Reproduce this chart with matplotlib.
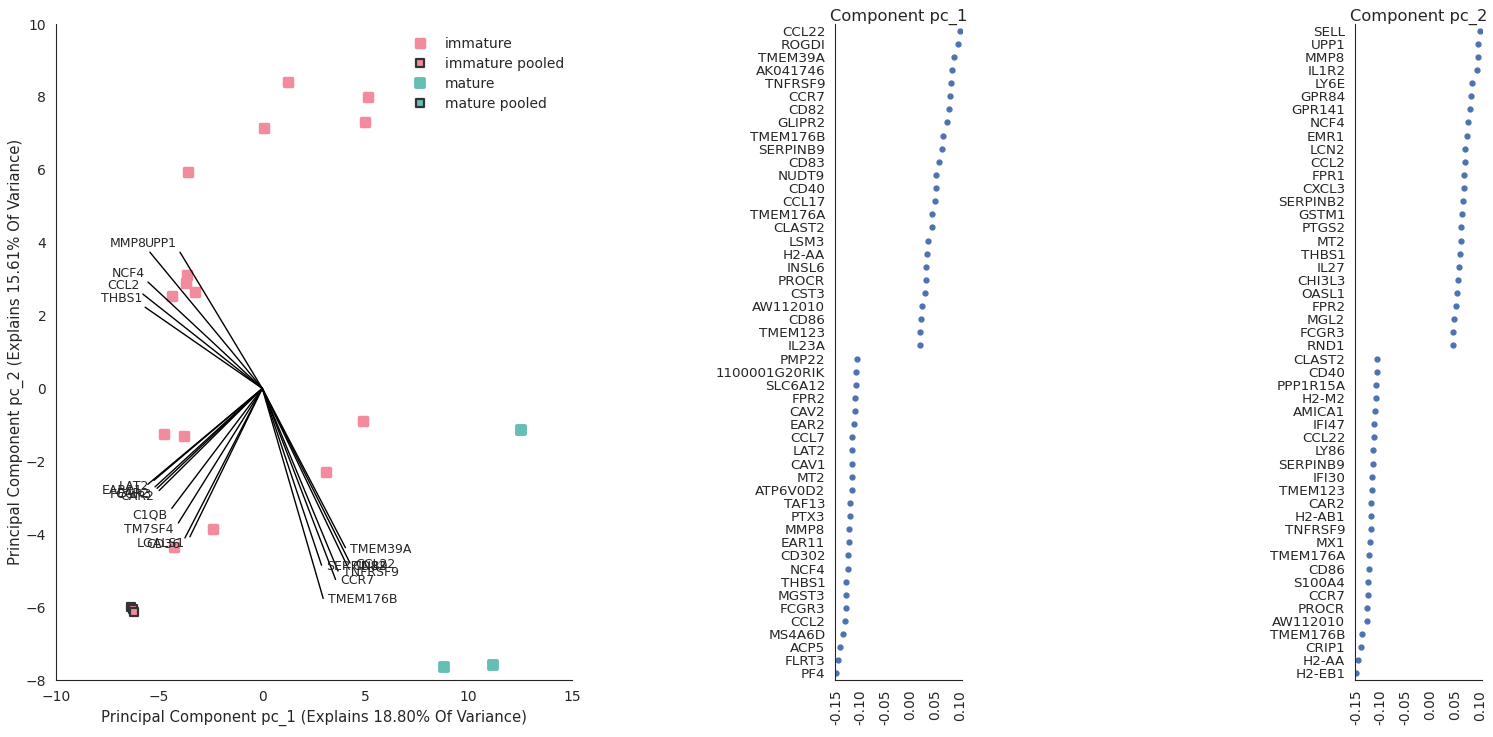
import matplotlib
matplotlib.use('Agg')
import matplotlib.pyplot as plt
from matplotlib.markers import MarkerStyle
import seaborn as sns

# PCA scores
immature_x = [1.25, 5.1, 5.0, 0.1, -3.6, -3.65, -3.7, -4.4, -3.25, -4.75, -3.8, 4.9, 3.1, -2.4, -4.3]
immature_y = [8.4, 8.0, 7.3, 7.15, 5.95, 3.1, 2.9, 2.55, 2.65, -1.25, -1.3, -0.9, -2.3, -3.85, -4.35]
immature_pooled_x = [-6.35, -6.28, -6.22]
immature_pooled_y = [-6.0, -6.05, -6.12]
mature_x = [12.55, 8.8, 11.2]
mature_y = [-1.15, -7.65, -7.6]
mature_pooled_x = [12.55]
mature_pooled_y = [-1.15]

# biplot vectors
vector_labels = ['MMP8', 'UPP1', 'NCF4', 'CCL2', 'THBS1',
                 'LAT2', 'EAR11', 'EAR2', 'FCGR3', 'CAR2',
                 'C1QB', 'TM7SF4', 'CD36', 'LGALS1',
                 'TMEM39A', 'CCL22', 'CD82', 'TNFRSF9', 'CCR7', 'SERPINB9', 'TMEM176B']
vector_x = [-5.45, -3.99, -5.54, -5.79, -5.68,
            -5.25, -5.55, -5.2, -5.1, -5.0,
            -4.39, -4.07, -3.75, -3.51,
            4.03, 4.25, 4.1, 3.67, 3.55, 2.87, 2.95]
vector_y = [3.74, 3.74, 2.92, 2.59, 2.23,
            -2.52, -2.63, -2.7, -2.74, -2.8,
            -3.29, -3.69, -4.10, -4.07,
            -4.37, -4.79, -4.85, -5.01, -5.24, -4.85, -5.76]

pc1_genes = ['CCL22', 'ROGDI', 'TMEM39A', 'AK041746', 'TNFRSF9', 'CCR7', 'CD82', 'GLIPR2',
             'TMEM176B', 'SERPINB9', 'CD83', 'NUDT9', 'CD40', 'CCL17', 'TMEM176A', 'CLAST2',
             'LSM3', 'H2-AA', 'INSL6', 'PROCR', 'CST3', 'AW112010', 'CD86', 'TMEM123', 'IL23A',
             'PMP22', '1100001G20RIK', 'SLC6A12', 'FPR2', 'CAV2', 'EAR2', 'CCL7', 'LAT2', 'CAV1',
             'MT2', 'ATP6V0D2', 'TAF13', 'PTX3', 'MMP8', 'EAR11', 'CD302', 'NCF4', 'THBS1',
             'MGST3', 'FCGR3', 'CCL2', 'MS4A6D', 'ACP5', 'FLRT3', 'PF4']
pc1_values = [0.100, 0.096, 0.088, 0.084, 0.082, 0.080, 0.078, 0.074,
              0.066, 0.064, 0.058, 0.052, 0.052, 0.050, 0.044, 0.044,
              0.036, 0.034, 0.032, 0.032, 0.030, 0.023, 0.021, 0.019, 0.019,
              -0.108, -0.110, -0.110, -0.112, -0.112, -0.114, -0.118, -0.118, -0.118,
              -0.118, -0.118, -0.122, -0.122, -0.124, -0.124, -0.126, -0.126, -0.130,
              -0.130, -0.130, -0.132, -0.136, -0.142, -0.146, -0.150]

pc2_genes = ['SELL', 'UPP1', 'MMP8', 'IL1R2', 'LY6E', 'GPR84', 'GPR141', 'NCF4', 'EMR1',
             'LCN2', 'CCL2', 'FPR1', 'CXCL3', 'SERPINB2', 'GSTM1', 'PTGS2', 'MT2', 'THBS1',
             'IL27', 'CHI3L3', 'OASL1', 'FPR2', 'MGL2', 'FCGR3', 'RND1',
             'CLAST2', 'CD40', 'PPP1R15A', 'H2-M2', 'AMICA1', 'IFI47', 'CCL22', 'LY86',
             'SERPINB9', 'IFI30', 'TMEM123', 'CAR2', 'H2-AB1', 'TNFRSF9', 'MX1', 'TMEM176A',
             'CD86', 'S100A4', 'CCR7', 'PROCR', 'AW112010', 'TMEM176B', 'CRIP1', 'H2-AA', 'H2-EB1']
pc2_values = [0.100, 0.096, 0.096, 0.094, 0.084, 0.082, 0.080, 0.075, 0.073,
              0.069, 0.069, 0.067, 0.067, 0.065, 0.063, 0.061, 0.061, 0.059,
              0.057, 0.055, 0.053, 0.051, 0.047, 0.045, 0.045,
              -0.107, -0.107, -0.109, -0.109, -0.111, -0.113, -0.113, -0.115,
              -0.115, -0.117, -0.117, -0.119, -0.119, -0.119, -0.121, -0.123,
              -0.123, -0.125, -0.125, -0.127, -0.127, -0.137, -0.139, -0.146, -0.150]

pink = '#f38b9e'
teal = '#66bfb5'
text_color = '.15'

sns.set_style('white')
plt.rcParams['font.family'] = ['DejaVu Sans']
plt.rcParams['text.color'] = text_color
plt.rcParams['axes.labelcolor'] = text_color
plt.rcParams['xtick.color'] = text_color
plt.rcParams['ytick.color'] = text_color


def plot_biplot(ax):
    sq = MarkerStyle('s', joinstyle='round')
    ax.plot(immature_x, immature_y, ls='none', marker=sq, ms=6, mfc=pink, mec=pink,
            mew=2.5, label='immature')
    ax.plot(immature_pooled_x, immature_pooled_y, ls='none', marker=sq, ms=6.2, mfc=pink,
            mec='#333333', mew=1.6, label='immature pooled')
    # pooled mature sample sits under the mature one
    ax.plot(mature_pooled_x, mature_pooled_y, ls='none', marker=sq, ms=6.2, mfc=teal,
            mec='#333333', mew=1.6, label='mature pooled', zorder=1)
    ax.plot(mature_x, mature_y, ls='none', marker=sq, ms=6.2, mfc=teal, mec=teal,
            mew=2.8, label='mature', zorder=3)

    for lab, x, y in zip(vector_labels, vector_x, vector_y):
        ax.plot([0, x], [0, y], color='k', lw=1)
        if x < 0 and y > 0:
            ha, off = 'right', (-2, 6.5)
        elif x < 0:
            ha, off = 'right', (-3.5, -4.5)
        else:
            ha, off = 'left', (3.5, -1)
        ax.annotate(lab, (x, y), xytext=off, textcoords='offset points',
                    ha=ha, va='center', fontsize=9, color=text_color)

    ax.set_xlim(-10, 15)
    ax.set_ylim(-8, 10)
    ax.set_xlabel('Principal Component pc_1 (Explains 18.80% Of Variance)', fontsize=10.75)
    ax.set_ylabel('Principal Component pc_2 (Explains 15.61% Of Variance)', fontsize=10.75,
                  labelpad=1)
    ax.tick_params(labelsize=10)
    handles, labels = ax.get_legend_handles_labels()
    order = ['immature', 'immature pooled', 'mature', 'mature pooled']
    hd = dict(zip(labels, handles))
    ax.legend([hd[k] for k in order], order, loc='upper left', bbox_to_anchor=(0.655, 1.0),
              frameon=False, fontsize=10, labelspacing=0.45, numpoints=1)
    sns.despine(ax=ax)


def plot_loadings(ax, genes, values, title):
    ax.plot(values, range(len(genes)), 'o', color='#4c72b0', ms=3.5)
    ax.set_yticks(range(len(genes)))
    ax.set_yticklabels(genes, fontsize=9.7)
    ax.set_ylim(len(genes) - 0.5, -0.5)
    ax.set_xlim(-0.152, 0.104)
    ax.set_xticks([-0.15, -0.10, -0.05, 0.00, 0.05, 0.10])
    ax.set_xticklabels(['%.2f' % v for v in [-0.15, -0.10, -0.05, 0.00, 0.05, 0.10]],
                       rotation=90, fontsize=10)
    ax.set_title(title, fontsize=11.7, pad=2)
    sns.despine(ax=ax)


fig = plt.figure(figsize=(14.93, 7.37), dpi=100)
ax1 = fig.add_axes([0.0375, 0.0773, 0.3455, 0.8901])
ax2 = fig.add_axes([0.5593, 0.0773, 0.0851, 0.8901])
ax3 = fig.add_axes([0.9076, 0.0773, 0.0851, 0.8901])

plot_biplot(ax1)
plot_loadings(ax2, pc1_genes, pc1_values, 'Component pc_1')
plot_loadings(ax3, pc2_genes, pc2_values, 'Component pc_2')

fig.savefig('out.png', dpi=100)
